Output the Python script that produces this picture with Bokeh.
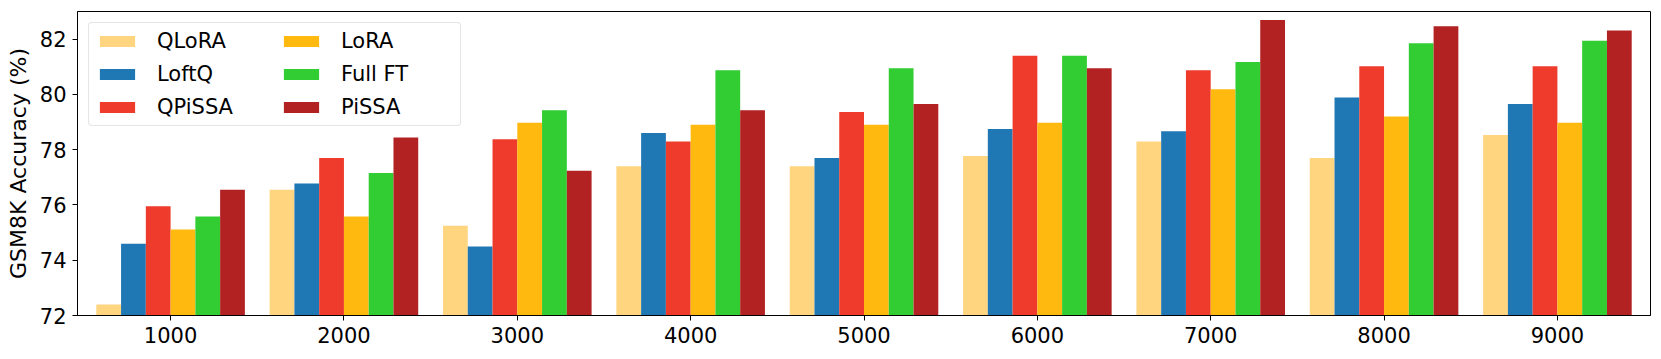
from bokeh.plotting import figure
from bokeh.models import ColumnDataSource, Range1d, FixedTicker, Legend, LegendItem
from bokeh.transform import dodge
from bokeh.embed import file_html
from bokeh.resources import INLINE

steps = [1000, 2000, 3000, 4000, 5000, 6000, 7000, 8000, 9000]
methods = ["QLoRA", "LoftQ", "QPiSSA", "LoRA", "Full FT", "PiSSA"]
colors = ["#FFD580", "#1F77B4", "#EF3B2C", "#FFB90F", "#32CD32", "#B22222"]

qlora = [72.4, 76.55, 75.25, 77.4, 77.4, 77.77, 78.3, 77.7, 78.53]
loftq = [74.6, 76.78, 74.5, 78.6, 77.7, 78.75, 78.67, 79.89, 79.65]
qpissa = [75.95, 77.7, 78.38, 78.3, 79.36, 81.4, 80.87, 81.02, 81.02]
lora = [75.11, 75.58, 78.97, 78.9, 78.9, 78.97, 80.19, 79.2, 78.97]
fullft = [75.58, 77.16, 79.43, 80.87, 80.95, 81.4, 81.17, 81.85, 81.94]
pissa = [76.55, 78.44, 77.24, 79.43, 79.65, 80.95, 82.69, 82.47, 82.31]

yticks = [72, 74, 76, 78, 80, 82]

series = [qlora, loftq, qpissa, lora, fullft, pissa]
src = ColumnDataSource(dict(x=steps, **{f"s{i}": s for i, s in enumerate(series)}))

FONT = "DejaVu Sans"
group_w = 1000.0
bar_w = group_w / 7

p = figure(
    frame_width=1573, frame_height=304,
    min_border_left=77, min_border_right=8, min_border_top=11, min_border_bottom=40,
    output_backend="svg", toolbar_location=None,
    x_range=Range1d(463, 9537), y_range=Range1d(72, 83),
)
p.xgrid.visible = False
p.ygrid.visible = False
p.outline_line_color = "black"
p.outline_line_width = 1
p.outline_line_alpha = 1

items = []
for i, (name, col) in enumerate(zip(methods, colors)):
    off = (i - 2.5) * bar_w
    r = p.vbar(x=dodge("x", off), top=f"s{i}", bottom=72, width=bar_w,
               source=src, fill_color=col, line_color=None)
    items.append(LegendItem(label=name, renderers=[r]))

p.xaxis.ticker = FixedTicker(ticks=steps)
p.yaxis.ticker = FixedTicker(ticks=yticks)
for ax in (p.xaxis[0], p.yaxis[0]):
    ax.major_label_text_font = FONT
    ax.major_label_text_font_size = "21px"
    ax.major_label_text_color = "black"
    ax.major_tick_out = 5
    ax.major_tick_in = 0
    ax.minor_tick_out = 0
    ax.minor_tick_in = 0
    ax.axis_line_color = "black"
    ax.major_tick_line_color = "black"
p.yaxis.axis_label = "GSM8K Accuracy (%)"
p.yaxis.axis_label_text_font = FONT
p.yaxis.axis_label_text_font_size = "22px"
p.yaxis.axis_label_text_font_style = "normal"
p.yaxis.axis_label_text_color = "black"
p.yaxis.major_label_standoff = 6
p.yaxis.axis_label_standoff = 6
p.xaxis.major_label_standoff = 6

legend = Legend(items=items, location="top_left", nrows=3)
legend.margin = 11
legend.padding = 6
legend.spacing = 9
legend.glyph_width = 44
legend.glyph_height = 14
legend.label_standoff = 18
legend.label_width = 113
legend.label_text_font = FONT
legend.label_text_font_size = "21px"
legend.label_text_color = "black"
legend.border_line_color = "#cccccc"
legend.border_line_width = 1
legend.background_fill_alpha = 0.8
legend.border_radius = 4
p.add_layout(legend)

open("out.html", "w").write(file_html(p, INLINE))
